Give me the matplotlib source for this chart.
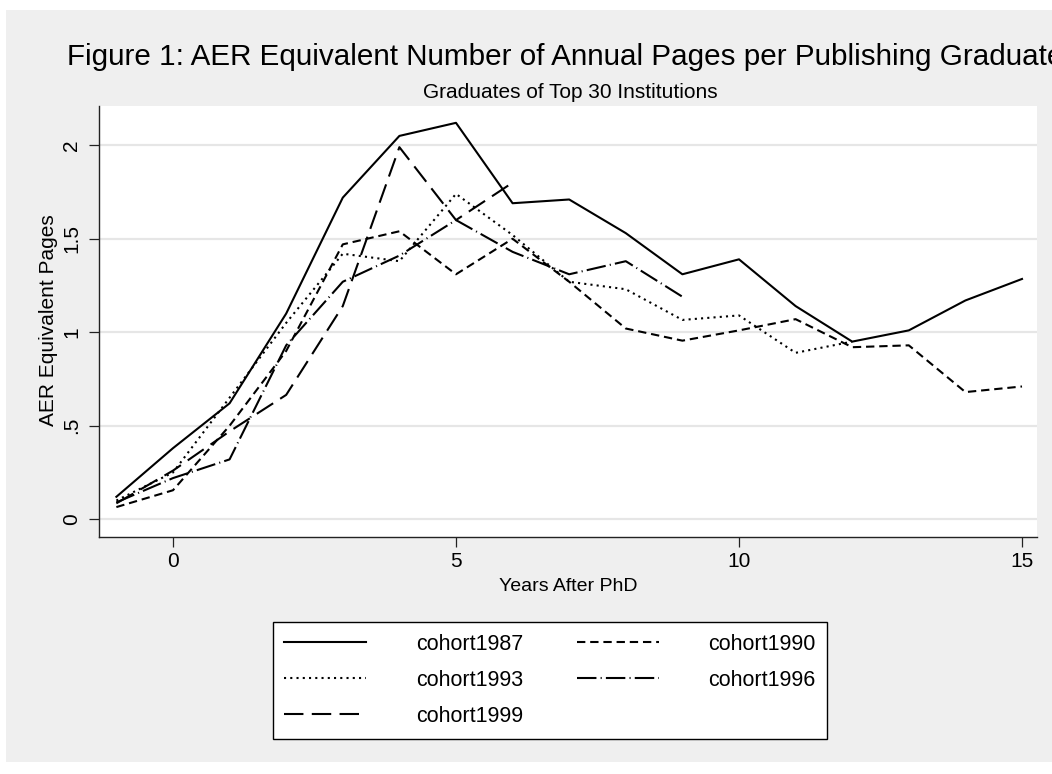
import matplotlib
matplotlib.use("Agg")
import matplotlib.pyplot as plt
from matplotlib.patches import Rectangle

plt.rcParams['font.family'] = ['Liberation Sans', 'DejaVu Sans']
plt.rcParams['lines.scale_dashes'] = False

# ---- data ----
years_1987 = list(range(-1, 16))
cohort1987 = [0.12, 0.38, 0.62, 1.10, 1.72, 2.05, 2.12, 1.69, 1.71, 1.53, 1.31, 1.39, 1.14, 0.95, 1.01, 1.17, 1.285]
years_1990 = list(range(-1, 16))
cohort1990 = [0.065, 0.155, 0.50, 0.90, 1.47, 1.54, 1.31, 1.50, 1.27, 1.02, 0.955, 1.01, 1.07, 0.92, 0.93, 0.68, 0.71]
years_1993 = list(range(-1, 13))
cohort1993 = [0.10, 0.25, 0.65, 1.05, 1.42, 1.38, 1.74, 1.52, 1.27, 1.23, 1.066, 1.09, 0.89, 0.95]
years_1996 = list(range(-1, 10))
cohort1996 = [0.09, 0.22, 0.32, 0.93, 1.27, 1.41, 1.60, 1.43, 1.31, 1.38, 1.19]
years_1999 = list(range(-1, 7))
cohort1999 = [0.085, 0.26, 0.47, 0.665, 1.14, 1.99, 1.60, 1.80]

xticks = [0, 5, 10, 15]
yticks = [0, 0.5, 1, 1.5, 2]
yticklabels = ['0', '.5', '1', '1.5', '2']

W, H = 1052, 774
fig = plt.figure(figsize=(W / 100, H / 100), dpi=100, facecolor='white')
# gray graph region
fig.patches.append(Rectangle((6 / W, 1 - 762 / H), (W - 6) / W, (762 - 10) / H,
                             transform=fig.transFigure, facecolor='#efefef',
                             edgecolor='none', zorder=-10))

ax = fig.add_axes([99 / W, 1 - 537 / H, (1037 - 99) / W, (537 - 106) / H])
ax.set_zorder(1)
ax.set_facecolor('white')
ax.set_xlim(-1.307, 15.265)
ax.set_ylim(-0.095, 2.21)

for s in ['top', 'right']:
    ax.spines[s].set_visible(False)
for s in ['left', 'bottom']:
    ax.spines[s].set_color('#222222')
    ax.spines[s].set_linewidth(1.0)

ax.set_yticks(yticks)
ax.set_yticklabels(yticklabels, rotation=90, va='center')
ax.set_xticks(xticks)
ax.tick_params(axis='both', direction='out', length=7.5, width=0.9, color='#222222',
               labelsize=15, labelcolor='black')
ax.tick_params(axis='y', pad=5.5)
ax.tick_params(axis='x', pad=3)
ax.grid(axis='y', color='#e6e6e6', linewidth=1.6)
ax.set_axisbelow(True)

lw = 1.5
l87, = ax.plot(years_1987, cohort1987, color='black', lw=lw, ls='-', label='cohort1987')
l90, = ax.plot(years_1990, cohort1990, color='black', lw=lw, ls=(0, (6, 3.5)), label='cohort1990')
l93, = ax.plot(years_1993, cohort1993, color='black', lw=lw, ls=(0, (1.5, 3)), label='cohort1993')
l96, = ax.plot(years_1996, cohort1996, color='black', lw=lw, ls=(0, (14, 3, 0.8, 3)), label='cohort1996')
l99, = ax.plot(years_1999, cohort1999, color='black', lw=lw, ls=(0, (14, 6)), label='cohort1999')

ax.set_xlabel('Years After PhD', fontsize=14, labelpad=5)
fig.text(49 / W, 1 - 320 / H, 'AER Equivalent Pages', fontsize=15, rotation=90,
         ha='center', va='center')

fig.text(67 / W, 1 - 65 / H, 'Figure 1: AER Equivalent Number of Annual Pages per Publishing Graduate',
         fontsize=21.3, ha='left', va='baseline')
fig.text(570 / W, 1 - 98 / H, 'Graduates of Top 30 Institutions', fontsize=15,
         ha='center', va='baseline')

handles = [l87, l93, l99, l90, l96]
leg = fig.legend(handles=handles, labels=[h.get_label() for h in handles], ncol=2,
                 loc='upper center', bbox_to_anchor=(550 / W, 1 - 622 / H),
                 borderaxespad=0,
                 fontsize=15.5, frameon=True, fancybox=False, edgecolor='black',
                 facecolor='white', framealpha=1, handlelength=3.8, handletextpad=2.3,
                 columnspacing=2.5, labelspacing=0.7, borderpad=0.55)
leg.get_frame().set_linewidth(1.0)

fig.savefig('out.png', dpi=100, facecolor=fig.get_facecolor())
